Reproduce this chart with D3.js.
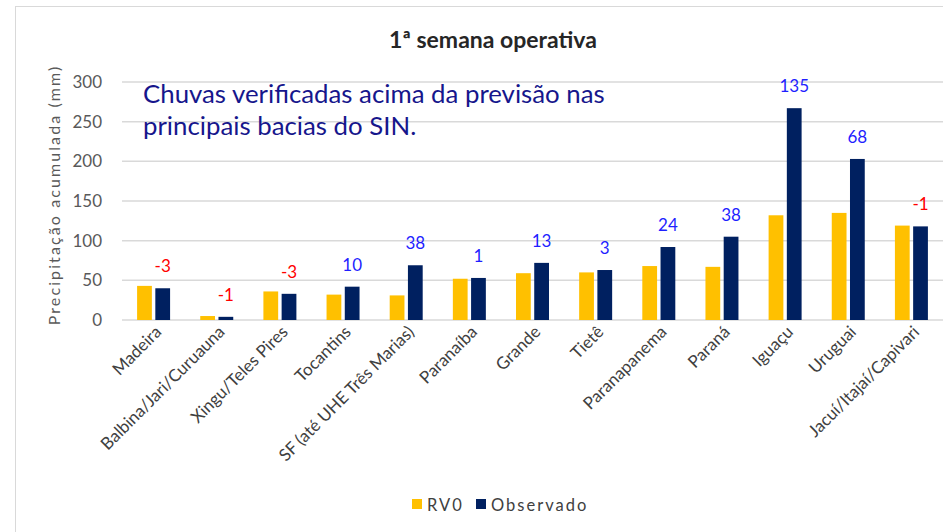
<!DOCTYPE html>
<html>
<head>
<meta charset="utf-8">
<script src="https://cdn.jsdelivr.net/npm/d3@7"></script>
<style>
    html, body { margin: 0; padding: 0; background: #fff; }
    svg { display: block; }
    text { font-family: Lato, "Open Sans", sans-serif; }
</style>
</head>
<body>
<svg id="chart" width="943" height="532"></svg>
<script>
// bacias and rainfall (mm)
const bacias = ["Madeira", "Balbina/Jari/Curuauna", "Xingu/Teles Pires", "Tocantins",
    "SF (até UHE Três Marias)", "Paranaíba", "Grande", "Tietê", "Paranapanema",
    "Paraná", "Iguaçu", "Uruguai", "Jacuí/Itajaí/Capivari"];
const rv0 = [43, 5, 36, 32, 31, 52, 59, 60, 68, 67, 132, 135, 119];
const observado = [40, 4, 33, 42, 69, 53, 72, 63, 92, 105, 267, 203, 118];
const desvio = [-3, -1, -3, 10, 38, 1, 13, 3, 24, 38, 135, 68, -1];
const series = ["RV0", "Observado"];
const colors = {RV0: "#FFC000", Observado: "#002060"};
const yTicks = [0, 50, 100, 150, 200, 250, 300];
const titulo = "1ª semana operativa";
const nota = ["Chuvas verificadas acima da previsão nas", "principais bacias do SIN."];

const svg = d3.select("#chart");

// chart area border (runs past the window on right/bottom)
svg.append("rect")
    .attr("x", 15.5).attr("y", 6.5)
    .attr("width", 1000).attr("height", 600)
    .attr("fill", "#fff")
    .attr("stroke", "#D9D9D9")
    .attr("stroke-width", 1);

const plot = {left: 122, right: 943, top: 82, bottom: 320};

const x0 = d3.scaleBand()
    .domain(bacias)
    .range([plot.left, plot.right])
    .paddingInner(0.4775)
    .paddingOuter(0.239);

const x1 = d3.scaleBand()
    .domain(series)
    .range([0, x0.bandwidth()])
    .paddingInner(0.19);

const y = d3.scaleLinear()
    .domain([0, 300])
    .range([plot.bottom, plot.top]);

// gridlines
svg.append("g")
    .selectAll("line")
    .data(yTicks)
    .enter()
    .append("line")
    .attr("x1", plot.left)
    .attr("x2", plot.right)
    .attr("y1", (d) => y(d))
    .attr("y2", (d) => y(d))
    .attr("stroke", "#D9D9D9")
    .attr("stroke-width", 1.5);

// y tick labels
svg.append("g")
    .selectAll("text")
    .data(yTicks)
    .enter()
    .append("text")
    .attr("x", 102)
    .attr("y", (d) => y(d))
    .attr("dy", "0.36em")
    .attr("text-anchor", "end")
    .attr("font-size", 17)
    .attr("fill", "#595959")
    .text((d) => d);

// y axis title
svg.append("text")
    .attr("transform", "translate(60,195) rotate(-90)")
    .attr("text-anchor", "middle")
    .attr("font-size", 16)
    .attr("letter-spacing", 2.1)
    .attr("fill", "#595959")
    .text("Precipitação acumulada (mm)");

// bars
const rows = bacias.map((b, i) => ({bacia: b, RV0: rv0[i], Observado: observado[i], desvio: desvio[i]}));

const groups = svg.append("g")
    .selectAll("g")
    .data(rows)
    .enter()
    .append("g")
    .attr("transform", (d) => `translate(${x0(d.bacia)},0)`);

groups.selectAll("rect")
    .data((d) => series.map((s) => ({serie: s, value: d[s]})))
    .enter()
    .append("rect")
    .attr("x", (d) => x1(d.serie))
    .attr("y", (d) => y(d.value))
    .attr("width", x1.bandwidth())
    .attr("height", (d) => y(0) - y(d.value))
    .attr("fill", (d) => colors[d.serie]);

// difference labels above the observed bar
groups.append("text")
    .attr("x", x1("Observado") + x1.bandwidth() / 2)
    .attr("y", (d) => y(d.Observado) - 16)
    .attr("text-anchor", "middle")
    .attr("font-size", 17)
    .attr("fill", (d) => d.desvio < 0 ? "#FF0000" : "#1F1FFF")
    .text((d) => d.desvio);

// x category labels, rotated
svg.append("g")
    .selectAll("text")
    .data(bacias)
    .enter()
    .append("text")
    .attr("transform", (d) => `translate(${x0(d) + x0.bandwidth() / 2 + 9},${plot.bottom + 13}) rotate(-45)`)
    .attr("text-anchor", "end")
    .attr("font-size", 17)
    .attr("fill", "#404040")
    .text((d) => d);

// title
svg.append("text")
    .attr("x", 493)
    .attr("y", 48)
    .attr("text-anchor", "middle")
    .attr("font-size", 23)
    .attr("font-weight", "bold")
    .attr("fill", "#262626")
    .text(titulo);

// text box
svg.append("g")
    .selectAll("text")
    .data(nota)
    .enter()
    .append("text")
    .attr("x", 143)
    .attr("y", (d, i) => 103 + i * 32)
    .attr("font-size", 25.8)
    .attr("fill", "#16168C")
    .text((d) => d);

// legend
const legend = svg.append("g")
    .selectAll("g")
    .data(series)
    .enter()
    .append("g")
    .attr("transform", (d, i) => `translate(${[412, 476][i]},499)`);

legend.append("rect")
    .attr("width", 10)
    .attr("height", 10)
    .attr("fill", (d) => colors[d]);

legend.append("text")
    .attr("x", 15)
    .attr("y", 11.5)
    .attr("font-size", 16.5)
    .attr("letter-spacing", 2)
    .attr("fill", "#404040")
    .text((d) => d);
</script>
</body>
</html>
